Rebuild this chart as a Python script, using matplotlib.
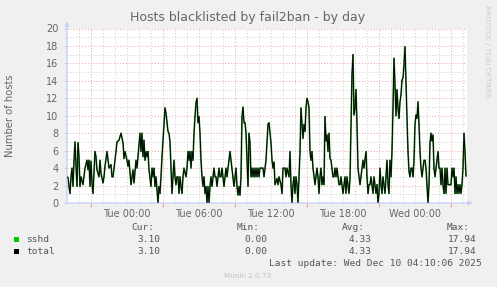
import matplotlib

matplotlib.use("Agg")
import matplotlib.pyplot as plt  # noqa: E402
from matplotlib.patches import Rectangle  # noqa: E402

# Munin palette.
BACK = "#f0f0f0"
FONT = "#666666"
LEGEND_FONT = "#555555"
AXIS = "#c8d0f8"
GRID = "#cfcfcf"
MGRID = "#eba4a4"
SSHD = "#00cc00"
TOTAL = "#000000"

W, H = 497, 287  # canvas in pixels

# 5-minute sample index (0 = Mon 19:00) and number of blacklisted hosts.
steps = [
    0, 1, 2, 3, 4, 5, 6, 7, 8, 9, 10, 11, 12, 13, 14, 16, 17, 18, 20, 21,
    22, 23, 24, 25, 26, 28, 29, 30, 32, 33, 34, 36, 37, 38, 40, 41, 42, 44, 45, 46,
    48, 49, 50, 52, 53, 54, 56, 57, 58, 60, 61, 62, 64, 65, 66, 67, 69, 70, 71, 73,
    74, 75, 76, 77, 78, 79, 80, 81, 82, 84, 85, 86, 87, 88, 89, 91, 92, 93, 94, 95,
    96, 97, 98, 99, 100, 101, 102, 103, 104, 105, 106, 107, 108, 109, 110, 111, 112, 113, 114, 115,
    116, 117, 119, 120, 121, 122, 123, 124, 125, 126, 127, 128, 129, 130, 131, 132, 133, 134, 135, 136,
    137, 138, 139, 140, 141, 142, 143, 144, 145, 146, 147, 148, 149, 150, 151, 152, 153, 154, 155, 156,
    157, 158, 159, 160, 161, 162, 163, 164, 165, 166, 167, 168, 169, 170, 171, 172, 173, 174, 175, 176,
    177, 178, 179, 180, 181, 182, 183, 184, 185, 186, 187, 188, 189, 190, 191, 192, 193, 196, 197, 198,
    199, 200, 201, 202, 203, 204, 205, 206, 207, 208, 210, 211, 212, 214, 215, 216, 218, 219, 220, 222,
    223, 224, 225, 226, 227, 228, 229, 230, 231, 232, 233, 234, 235, 236, 237, 238, 239, 240, 241, 242,
    243, 244, 245, 246, 247, 248, 249, 250, 251, 252, 253, 254, 255, 256, 257, 258, 259, 260, 261, 262,
    263, 264, 265, 266, 267, 268, 269, 270, 271, 272, 273, 274, 275, 276, 277, 278, 279, 280, 281, 282,
    283, 284, 285, 286, 287, 288, 289, 290, 291, 292, 293, 294, 295, 296, 297, 298, 299, 300, 301, 302,
    303, 304, 305, 306, 307, 308, 309, 310, 311, 312, 313, 314, 315, 316, 317, 318, 319, 320, 321, 322,
    323, 324, 325, 326, 327, 328, 329, 330, 331, 332, 333, 334, 335, 336, 337, 338, 339, 340, 341, 342,
    343, 344, 345, 346, 347, 348, 349, 350, 351, 352, 353, 354, 355, 356, 357, 358, 359, 360, 361, 362,
    363, 364, 365, 366, 367, 368, 369, 370, 371, 372, 373, 374, 375, 376, 377, 378, 379, 380, 381, 384,
    385, 386, 387, 388, 389, 390, 391, 392, 393, 394, 395, 396, 397, 398, 399,
]
hosts = [
    3.0, 2.9, 1.9, 1.1, 3.0, 4.0, 1.9, 4.9, 7.0, 4.2, 1.9, 6.9, 5.3, 1.9, 3.0, 2.1, 3.0, 4.0, 4.9, 3.8,
    4.9, 1.9, 4.8, 2.3, 1.1, 5.9, 5.3, 3.8, 3.0, 4.9, 3.4, 2.3, 3.0, 4.2, 5.9, 4.9, 4.0, 4.4, 3.0, 3.0,
    4.9, 5.9, 7.0, 7.2, 7.6, 8.0, 6.9, 5.1, 5.9, 4.9, 4.2, 4.9, 2.1, 3.0, 3.8, 2.3, 4.9, 4.0, 5.3, 8.0,
    5.9, 8.0, 5.3, 7.2, 4.9, 5.9, 5.3, 5.9, 3.8, 1.9, 4.0, 3.0, 4.0, 1.9, 3.0, 0.0, 1.9, 1.1, 3.0, 5.3,
    7.2, 9.2, 10.9, 10.3, 9.2, 8.2, 8.0, 7.0, 4.0, 1.1, 3.0, 4.9, 3.0, 2.1, 3.0, 3.0, 1.1, 3.0, 1.9, 1.1,
    3.0, 4.0, 3.0, 4.0, 5.9, 4.9, 5.9, 4.0, 5.9, 4.9, 8.0, 9.9, 11.5, 12.0, 9.2, 9.9, 8.0, 4.9, 3.0, 1.9,
    3.0, 1.1, 1.9, 0.0, 1.9, 0.0, 1.9, 3.0, 1.9, 3.0, 4.0, 3.0, 3.0, 1.9, 3.0, 4.0, 3.0, 3.0, 4.0, 3.0,
    1.9, 3.0, 4.0, 3.0, 4.0, 4.9, 5.9, 4.9, 4.0, 3.0, 1.9, 3.0, 4.0, 1.9, 0.9, 1.9, 0.9, 3.0, 9.9, 11.0,
    9.2, 9.2, 8.0, 4.9, 1.9, 8.0, 6.9, 3.0, 4.0, 3.0, 4.0, 3.0, 4.0, 3.0, 4.0, 3.0, 4.0, 4.0, 3.0, 4.0,
    4.9, 6.9, 9.0, 9.2, 8.0, 6.9, 4.9, 4.0, 4.7, 2.1, 2.8, 2.1, 3.0, 2.1, 1.1, 4.0, 4.0, 3.0, 4.0, 3.0,
    5.9, 2.1, 0.0, 2.1, 3.0, 1.1, 3.0, 2.1, 0.0, 3.0, 5.9, 10.9, 9.0, 7.4, 9.0, 8.2, 10.9, 12.0, 11.6, 10.9,
    5.9, 4.9, 5.9, 4.0, 3.0, 2.1, 3.0, 4.0, 3.0, 1.1, 3.0, 4.0, 2.1, 3.0, 2.1, 9.9, 7.1, 7.8, 5.9, 8.0,
    5.1, 4.9, 4.0, 3.0, 3.0, 4.0, 3.0, 4.0, 3.0, 2.1, 2.1, 3.0, 2.1, 1.1, 2.1, 3.0, 1.1, 3.0, 2.1, 1.1,
    2.8, 9.0, 14.7, 17.0, 10.1, 10.9, 13.0, 9.0, 4.0, 3.0, 2.1, 3.0, 4.0, 4.9, 4.0, 4.9, 5.9, 3.0, 1.1, 2.1,
    2.1, 3.0, 2.1, 1.1, 3.0, 2.1, 1.1, 2.1, 0.0, 1.1, 4.0, 2.1, 1.1, 3.0, 2.1, 1.1, 3.0, 4.9, 2.1, 1.1,
    4.9, 3.0, 5.9, 10.9, 16.6, 13.6, 10.0, 13.0, 10.9, 9.7, 11.6, 12.4, 14.1, 14.3, 15.9, 17.9, 13.6, 9.7, 5.9, 3.6,
    3.0, 4.0, 4.0, 3.0, 4.9, 9.0, 10.1, 9.7, 11.6, 9.0, 5.9, 4.0, 3.0, 4.0, 4.9, 4.9, 4.0, 2.1, 0.0, 2.1,
    6.9, 8.0, 7.1, 7.8, 4.0, 3.0, 4.0, 4.9, 5.9, 4.0, 4.0, 2.1, 4.0, 2.1, 1.1, 4.0, 1.1, 4.0, 2.1, 2.1,
    4.0, 3.0, 4.0, 1.1, 3.0, 1.1, 2.1, 1.1, 2.1, 1.1, 2.1, 4.0, 8.0, 5.9, 3.1,
]

tick_hours = [0, 6, 12, 18, 24]
tick_labels = ["Tue 00:00", "Tue 06:00", "Tue 12:00", "Tue 18:00", "Wed 00:00"]
major_hours = [-3, 3, 9, 15, 21, 27]

legend_names = ["sshd", "total"]
legend_colors = [SSHD, TOTAL]
cur_vals = [3.10, 3.10]
min_vals = [0.00, 0.00]
avg_vals = [4.33, 4.33]
max_vals = [17.94, 17.94]


def fx(px):
    return px / W


def fy(py):
    return 1 - py / H


fig = plt.figure(figsize=(W / 100, H / 100), dpi=100, facecolor=BACK)
ax = fig.add_axes([fx(67), fy(203), 400 / W, 174.5 / H])
ax.set_facecolor("white")

hours = [s / 12 - 5 for s in steps]
ax.set_xlim(-5, 400 / 12 - 5)
ax.set_ylim(0, 20)

# Grid: hourly / 1 unit minor, 6-hourly / 2 units major.
dots = (0, (1, 2))
for h in range(-4, 29):
    if h not in major_hours:
        ax.axvline(h, color=GRID, lw=0.7, ls=dots, zorder=1)
for h in major_hours:
    ax.axvline(h, color=MGRID, lw=0.7, ls=dots, zorder=1)
for v in range(1, 21):
    ax.axhline(v, color=MGRID if v % 2 == 0 else GRID, lw=0.7, ls=dots, zorder=1)

ax.plot(hours, hosts, color="#2f8a2f", lw=1.2, zorder=3)
ax.plot(hours, hosts, color=TOTAL, lw=0.65, zorder=4)

for s in ax.spines.values():
    s.set_visible(False)
arrow = dict(arrowstyle="-|>", color=AXIS, lw=1.0, mutation_scale=6, shrinkA=0, shrinkB=0)
ax.annotate("", xy=(0, 1.04), xytext=(0, 0), xycoords="axes fraction", arrowprops=arrow)
ax.annotate("", xy=(1.014, 0), xytext=(0, 0), xycoords="axes fraction", arrowprops=arrow)

ax.set_yticks(range(0, 21, 2))
ax.tick_params(axis="y", length=2, color=GRID, labelsize=7, labelcolor=FONT, pad=4)
ax.set_xticks(tick_hours)
ax.set_xticklabels(tick_labels)
ax.tick_params(axis="x", length=0, labelsize=7, labelcolor=FONT, pad=4)
ax.set_xticks(major_hours, minor=True)
ax.tick_params(axis="x", which="minor", length=3, color=MGRID, width=0.8)

fig.text(fx(248), fy(18), "Hosts blacklisted by fail2ban - by day",
         ha="center", va="center", fontsize=9, color=FONT)
fig.text(fx(10), fy(116), "Number of hosts", rotation=90,
         ha="center", va="center", fontsize=7.2, color=FONT)
fig.text(fx(487), fy(5), "RRDTOOL / TOBI OETIKER", rotation=270,
         ha="center", va="top", fontsize=5.2, color="#cccccc")

# Legend block (monospace like rrdtool).
mono = dict(family="DejaVu Sans Mono", fontsize=6.8, color=LEGEND_FONT, va="center")
for label, x in [("Cur:", 131), ("Min:", 237), ("Avg:", 342), ("Max:", 447)]:
    fig.text(fx(x), fy(228), label, ha="left", **mono)

rows_y = [239, 251]
for i, name in enumerate(legend_names):
    y = rows_y[i]
    fig.add_artist(Rectangle((fx(14), fy(y + 2.5)), 5 / W, 5 / H,
                             transform=fig.transFigure, facecolor=legend_colors[i],
                             edgecolor="none"))
    fig.text(fx(26.5), fy(y), name, ha="left", **mono)
    for val, xr in [(cur_vals[i], 160.5), (min_vals[i], 267),
                    (avg_vals[i], 372), (max_vals[i], 477)]:
        fig.text(fx(xr), fy(y), f"{val:.2f}", ha="right", **mono)

fig.text(fx(482), fy(263.5), "Last update: Wed Dec 10 04:10:06 2025", ha="right", **mono)
fig.text(fx(248), fy(276), "Munin 2.0.73", ha="center", va="center",
         fontsize=5.2, color="#c4c4c4")

fig.savefig("out.png", dpi=100, facecolor=BACK)
